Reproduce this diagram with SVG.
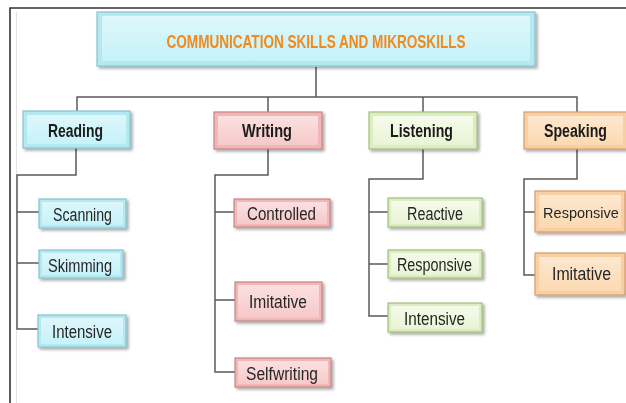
<svg xmlns="http://www.w3.org/2000/svg" width="626" height="403" viewBox="0 0 626 403">
<style>
.frame{stroke:#333;stroke-width:1.6;fill:none}
.conn{stroke:#5a5a5a;stroke-width:1.5;fill:none}
.t1{font-family:"Liberation Sans",Arial,sans-serif;font-weight:bold;font-size:18px;fill:#1a1a1a;text-anchor:middle}
.t2{font-family:"Liberation Sans",Arial,sans-serif;font-size:17.5px;fill:#262626;text-anchor:middle}
.title{font-family:"Liberation Sans",Arial,sans-serif;font-weight:bold;font-size:19px;fill:#ef8a1d;text-anchor:middle}
.cyan .o{fill:#b4e9f1;stroke:#86c3cc;stroke-width:1.2}
.cyan .i{fill:url(#gc)}
.pink .o{fill:#f0b7b7;stroke:#c88484;stroke-width:1.2}
.pink .i{fill:url(#gp)}
.green .o{fill:#dcedc2;stroke:#a2bf7c;stroke-width:1.2}
.green .i{fill:url(#gg)}
.orange .o{fill:#f8cfa2;stroke:#d79c68;stroke-width:1.2}
.orange .i{fill:url(#go)}
.node{filter:url(#sh)}
</style>
<defs>
<filter id="sh" x="-10%" y="-20%" width="125%" height="150%">
<feGaussianBlur in="SourceAlpha" stdDeviation="1.5"/>
<feOffset dx="1.5" dy="2" result="b"/>
<feComponentTransfer><feFuncA type="linear" slope="0.35"/></feComponentTransfer>
<feMerge><feMergeNode/><feMergeNode in="SourceGraphic"/></feMerge>
</filter>
<linearGradient id="gc" x1="0" y1="0" x2="0" y2="1"><stop offset="0" stop-color="#ddf7fb"/><stop offset="1" stop-color="#c6f2f9"/></linearGradient>
<linearGradient id="gp" x1="0" y1="0" x2="0" y2="1"><stop offset="0" stop-color="#fbe0e0"/><stop offset="1" stop-color="#f6c9c9"/></linearGradient>
<linearGradient id="gg" x1="0" y1="0" x2="0" y2="1"><stop offset="0" stop-color="#f5fbea"/><stop offset="1" stop-color="#e8f4d6"/></linearGradient>
<linearGradient id="go" x1="0" y1="0" x2="0" y2="1"><stop offset="0" stop-color="#fde8cf"/><stop offset="1" stop-color="#fbd9b2"/></linearGradient>
</defs>
<rect width="626" height="403" fill="#fff"/>
<g id="frame">
<path class="frame" d="M10 403V8H626"/>
<path d="M16.5 12V403" stroke="#e2e2e2" stroke-width="1" fill="none"/>
</g>
<g id="connectors">
<path class="conn" d="M316 67V97M77 111V97H577V112M268 97V112M423 97V112"/>
<path class="conn" d="M76 148V175H17V329H38M17 212H39M17 263H39"/>
<path class="conn" d="M268 149V175H215V372H235M215 212H234M215 300H235"/>
<path class="conn" d="M423 149V179H369V316H388M369 212H388M369 264H388"/>
<path class="conn" d="M577 149V179H524V275H535M524 212H535"/>
</g>
<g id="n-root" class="node cyan"><rect class="o" x="97" y="12" width="438" height="54"/><rect class="i" x="102" y="16" width="428" height="45"/><text class="title" x="316" y="48" textLength="299" lengthAdjust="spacingAndGlyphs">COMMUNICATION SKILLS AND MIKROSKILLS</text></g>
<g id="n-reading" class="node cyan"><rect class="o" x="23" y="111" width="107" height="37"/><rect class="i" x="27" y="115" width="99" height="29"/><text class="t1" x="75.5" y="137" textLength="55" lengthAdjust="spacingAndGlyphs">Reading</text></g>
<g id="n-writing" class="node pink"><rect class="o" x="214" y="112" width="108" height="37"/><rect class="i" x="218" y="116" width="100" height="29"/><text class="t1" x="267" y="137" textLength="50" lengthAdjust="spacingAndGlyphs">Writing</text></g>
<g id="n-listening" class="node green"><rect class="o" x="369" y="112" width="108" height="37"/><rect class="i" x="373" y="116" width="100" height="29"/><text class="t1" x="421.5" y="137" textLength="63" lengthAdjust="spacingAndGlyphs">Listening</text></g>
<g id="n-speaking" class="node orange"><rect class="o" x="524" y="112" width="103" height="37"/><rect class="i" x="528" y="116" width="95" height="29"/><text class="t1" x="575.5" y="137" textLength="63" lengthAdjust="spacingAndGlyphs">Speaking</text></g>
<g id="n-scanning" class="node cyan"><rect class="o" x="39" y="199" width="87" height="29"/><rect class="i" x="42" y="202" width="81" height="23"/><text class="t2" x="82.5" y="220.5" textLength="59" lengthAdjust="spacingAndGlyphs">Scanning</text></g>
<g id="n-skimming" class="node cyan"><rect class="o" x="39" y="250" width="84" height="28"/><rect class="i" x="42" y="253" width="78" height="22"/><text class="t2" x="80" y="272" textLength="64" lengthAdjust="spacingAndGlyphs">Skimming</text></g>
<g id="n-intensive-r" class="node cyan"><rect class="o" x="38" y="315" width="88" height="32"/><rect class="i" x="41" y="318" width="82" height="26"/><text class="t2" x="82" y="337.5" textLength="60" lengthAdjust="spacingAndGlyphs">Intensive</text></g>
<g id="n-controlled" class="node pink"><rect class="o" x="234" y="199" width="96" height="28"/><rect class="i" x="237" y="202" width="90" height="22"/><text class="t2" x="281.5" y="220" textLength="69" lengthAdjust="spacingAndGlyphs">Controlled</text></g>
<g id="n-imitative-w" class="node pink"><rect class="o" x="235" y="282" width="87" height="39"/><rect class="i" x="238" y="285" width="81" height="33"/><text class="t2" x="278" y="308" textLength="58" lengthAdjust="spacingAndGlyphs">Imitative</text></g>
<g id="n-selfwriting" class="node pink"><rect class="o" x="235" y="358" width="96" height="29"/><rect class="i" x="238" y="361" width="90" height="23"/><text class="t2" x="282" y="380" textLength="72" lengthAdjust="spacingAndGlyphs">Selfwriting</text></g>
<g id="n-reactive" class="node green"><rect class="o" x="388" y="198" width="94" height="29"/><rect class="i" x="391" y="201" width="88" height="23"/><text class="t2" x="435" y="219.5" textLength="56" lengthAdjust="spacingAndGlyphs">Reactive</text></g>
<g id="n-responsive-l" class="node green"><rect class="o" x="388" y="250" width="94" height="28"/><rect class="i" x="391" y="253" width="88" height="22"/><text class="t2" x="434.5" y="271" textLength="75" lengthAdjust="spacingAndGlyphs">Responsive</text></g>
<g id="n-intensive-l" class="node green"><rect class="o" x="388" y="303" width="94" height="29"/><rect class="i" x="391" y="306" width="88" height="23"/><text class="t2" x="434.5" y="324.5" textLength="61" lengthAdjust="spacingAndGlyphs">Intensive</text></g>
<g id="n-responsive-s" class="node orange"><rect class="o" x="535" y="191" width="90" height="41"/><rect class="i" x="539" y="195" width="82" height="33"/><text class="t2" x="581" y="217.5" style="font-size:14.5px">Responsive</text></g>
<g id="n-imitative-s" class="node orange"><rect class="o" x="535" y="253" width="90" height="42"/><rect class="i" x="539" y="257" width="82" height="34"/><text class="t2" x="581.5" y="280" textLength="59" lengthAdjust="spacingAndGlyphs">Imitative</text></g>
</svg>
